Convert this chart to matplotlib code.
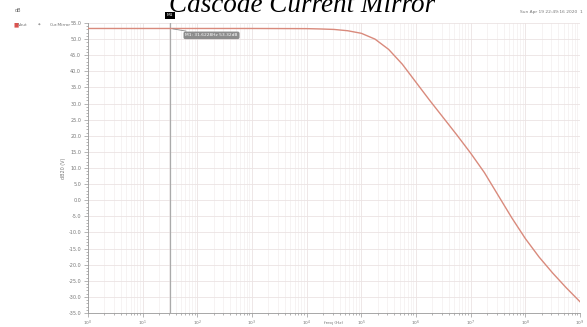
import numpy as np
import matplotlib
matplotlib.use("Agg")
import matplotlib.pyplot as plt
from matplotlib.ticker import LogLocator, MultipleLocator, FormatStrFormatter, NullFormatter

# data (log10 of frequency, gain in dB)
log_freq = [0, 1, 2, 3, 4.0, 4.25, 4.5, 4.75, 5.0, 5.25, 5.5, 5.75, 6.0, 6.25,
            6.5, 6.75, 7.0, 7.25, 7.5, 7.75, 8.0, 8.25, 8.5, 8.75, 9.0]
gain_db = [53.3, 53.3, 53.3, 53.3, 53.25, 53.15, 53.0, 52.6, 51.8, 50.0, 46.8, 42.2,
           36.6, 31.0, 25.6, 20.2, 14.6, 8.6, 1.6, -5.4, -11.9, -17.6, -22.6, -27.2, -31.5]
marker_freq = 31.6228
marker_db = 53.32

freq = [10 ** v for v in log_freq]

W, H = 587, 327
fig = plt.figure(figsize=(W / 100, H / 100), dpi=100)
ax = fig.add_axes([88 / W, 1 - 313 / H, (580 - 88) / W, (313 - 23) / H])

ax.plot(freq, gain_db, color="#d98a7c", lw=1.0, zorder=3)
ax.set_xscale("log")
ax.set_xlim(1, 1e9)
ax.set_ylim(-35, 55)

ax.xaxis.set_major_locator(LogLocator(base=10, numticks=20))
ax.xaxis.set_minor_locator(LogLocator(base=10, subs=np.arange(2, 10), numticks=20))
ax.xaxis.set_minor_formatter(NullFormatter())
ax.yaxis.set_major_locator(MultipleLocator(5))
ax.yaxis.set_minor_locator(MultipleLocator(1))
ax.yaxis.set_major_formatter(FormatStrFormatter("%.1f"))

ax.grid(which="major", color="#ebe3e3", lw=0.6)
ax.grid(which="minor", axis="x", color="#f3eeee", lw=0.5)
for s in ["top", "right"]:
    ax.spines[s].set_visible(False)
for s in ["left", "bottom"]:
    ax.spines[s].set_color("#999999")
    ax.spines[s].set_linewidth(0.6)
ax.tick_params(which="both", colors="#999999", labelcolor="#777777", labelsize=3.5, width=0.5)
ax.tick_params(which="major", length=3, pad=2)
ax.tick_params(which="minor", length=1.5)
ax.tick_params(axis="x", which="major", labelsize=3.2, pad=1)
ax.set_xlabel("freq (Hz)", fontsize=3.2, color="#777777")
ax.xaxis.set_label_coords(0.5, -0.028)
ax.set_ylabel("dB20 (V)", fontsize=3.5, color="#777777", labelpad=2)

# marker M1
ax.axvline(marker_freq, color="#aaaaaa", lw=0.9, zorder=2)
ax.annotate("M1: 31.6228Hz 53.32dB", xy=(marker_freq, marker_db), xytext=(11, -5),
            textcoords="offset points", fontsize=3.2, color="white", va="center",
            bbox=dict(boxstyle="round,pad=0.4", fc="#8c8c8c", ec="none"),
            arrowprops=dict(arrowstyle="-", color="#8c8c8c", lw=0.6))
ax.text(marker_freq, 1.02, "M1", transform=ax.get_xaxis_transform(), fontsize=3.2,
        color="white", ha="center", va="bottom",
        bbox=dict(boxstyle="square,pad=0.35", fc="black", ec="none"))

# header texts
fig.text(302 / W, 1 - 12 / H, "Cascode Current Mirror", ha="center", va="baseline",
         fontsize=19.5, family="Liberation Serif", style="italic")
fig.text(15 / W, 1 - 11 / H, "dB", fontsize=3.5, color="#666666", va="center")
fig.text(13 / W, 1 - 25 / H, "\u25a0", fontsize=4, color="#d9534f", va="center")
fig.text(18 / W, 1 - 25 / H, "Vout", fontsize=3.2, color="#777777", va="center")
fig.text(38 / W, 1 - 25 / H, "\u25c6", fontsize=2.5, color="#999999", va="center")
fig.text(50 / W, 1 - 25 / H, "Cur.Mirror", fontsize=3.2, color="#777777", va="center")
fig.text(583 / W, 1 - 12 / H, "Sun Apr 19 22:49:16 2020  1", fontsize=3.2,
         color="#777777", ha="right", va="center")

fig.savefig("out.png", dpi=100)
